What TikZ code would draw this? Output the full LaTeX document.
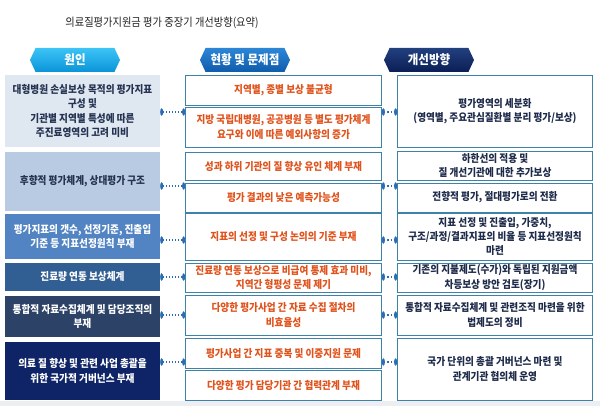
\documentclass[tikz,border=0pt]{standalone}
\usepackage{fontspec}
\setmainfont{Noto Sans CJK KR}[FakeStretch=0.9]
\usetikzlibrary{shapes.symbols,arrows.meta}

\definecolor{titletext}{HTML}{222222}
\definecolor{headAtop}{HTML}{3CC4F6}
\definecolor{headAbot}{HTML}{0A94D8}
\definecolor{headBtop}{HTML}{2C86D6}
\definecolor{headBbot}{HTML}{0F5CAC}
\definecolor{headCtop}{HTML}{22407F}
\definecolor{headCbot}{HTML}{0B1E55}
\definecolor{causeA}{HTML}{DFE7F1}
\definecolor{causeB}{HTML}{B8CBE3}
\definecolor{causeC}{HTML}{5284C3}
\definecolor{causeD}{HTML}{315F93}
\definecolor{causeE}{HTML}{2C4266}
\definecolor{causeF}{HTML}{0F2467}
\definecolor{darktext}{HTML}{253350}
\definecolor{boxline}{HTML}{3D82A8}
\definecolor{probtext}{HTML}{E0531C}
\definecolor{plantext}{HTML}{1E2B4A}
\definecolor{linkblue}{HTML}{2A6DB5}
\definecolor{shadowgray}{HTML}{ECEEF1}

\newcommand\cellfont{\fontsize{10.7}{14.2}\selectfont\bfseries}

\begin{document}
\begin{tikzpicture}[
  x=1pt, y=-1pt,
  every node/.style={inner sep=1pt},
  head/.style={signal, signal to=west and east, signal pointer angle=130,
    minimum width=90pt, minimum height=24pt, inner sep=0pt, text=white,
    font=\fontsize{12.8}{14}\selectfont\bfseries},
  % left column: filled cells, no frame
  cause/.style={minimum width=155pt, inner sep=0pt, align=center, font=\cellfont},
  % middle and right columns: framed white cells
  prob/.style={draw=boxline, line width=0.8pt, fill=white, minimum width=196pt,
    inner sep=0pt, align=center, text=probtext, font=\cellfont},
  plan/.style={draw=boxline, line width=0.8pt, fill=white, minimum width=195pt,
    inner sep=0pt, align=center, text=plantext, font=\cellfont},
  link/.style={draw=linkblue, line width=1.1pt, dotted,
    {Circle[length=3pt,width=7pt]}-{Circle[length=3pt,width=7pt]}}]

  \useasboundingbox (0,0) rectangle (600,409);
  \fill[shadowgray] (0,401) rectangle (600,406);

  % title and column heads
  \node[text=titletext, font=\fontsize{11.4}{13}\selectfont] (title) at (162,23)
    {의료질평가지원금 평가 중장기 개선방향(요약)};
  \node[head, top color=headAtop, bottom color=headAbot] (hcause) at (75,60) {원인};
  \node[head, top color=headBtop, bottom color=headBbot] (hprob)  at (245,60) {현황 및 문제점};
  \node[head, top color=headCtop, bottom color=headCbot] (hplan)  at (429,60) {개선방향};

  % causes
  \node[cause, fill=causeA, text=darktext, minimum height=72pt] (c1) at (82.5,111)
    {대형병원 손실보상 목적의 평가지표\\구성 및\\기관별 지역별 특성에 따른\\주진료영역의 고려 미비};
  \node[cause, fill=causeB, text=darktext, minimum height=59pt] (c2) at (82.5,181.5)
    {후향적 평가체계, 상대평가 구조};
  \node[cause, fill=causeC, text=white, minimum height=45pt] (c3) at (82.5,236.5)
    {평가지표의 갯수, 선정기준, 진출입\\기준 등 지표선정원칙 부재};
  \node[cause, fill=causeD, text=white, minimum height=28pt] (c4) at (82.5,277)
    {진료량 연동 보상체계};
  \node[cause, fill=causeE, text=white, minimum height=41pt] (c5) at (82.5,316.5)
    {통합적 자료수집체계 및 담당조직의\\부재};
  \node[cause, fill=causeF, text=white, minimum height=58pt] (c6) at (82.5,371)
    {의료 질 향상 및 관련 사업 총괄을\\위한 국가적 거버넌스 부재};

  % present state and problems
  \node[prob, minimum height=30pt] (p1) at (283.5,90)  {지역별, 종별 보상 불균형};
  \node[prob, minimum height=40pt] (p2) at (283.5,127)
    {지방 국립대병원, 공공병원 등 별도 평가체계\\요구와 이에 따른 예외사항의 증가};
  \node[prob, minimum height=28pt] (p3) at (283.5,166)   {성과 하위 기관의 질 향상 유인 체계 부재};
  \node[prob, minimum height=29pt] (p4) at (283.5,197.5) {평가 결과의 낮은 예측가능성};
  \node[prob, minimum height=47pt] (p5) at (283.5,236.5) {지표의 선정 및 구성 논의의 기준 부재};
  \node[prob, minimum height=29pt] (p6) at (283.5,277.5)
    {진료량 연동 보상으로 비급여 통제 효과 미비,\\지역간 형평성 문제 제기};
  \node[prob, minimum height=40pt] (p7) at (283.5,315)
    {다양한 평가사업 간 자료 수집 절차의\\비효율성};
  \node[prob, minimum height=30pt] (p8) at (283.5,353)   {평가사업 간 지표 중복 및 이중지원 문제};
  \node[prob, minimum height=30pt] (p9) at (283.5,385)   {다양한 평가 담당기관 간 협력관계 부재};

  % directions for improvement
  \node[plan, minimum height=72pt] (d1) at (495,111)
    {평가영역의 세분화\\(영역별, 주요관심질환별 분리 평가/보상)};
  \node[plan, minimum height=29pt] (d2) at (495,165.5)
    {하한선의 적용 및\\질 개선기관에 대한 추가보상};
  \node[plan, minimum height=29pt] (d3) at (495,197.5) {전향적 평가, 절대평가로의 전환};
  \node[plan, minimum height=47pt] (d4) at (495,236.5)
    {지표 선정 및 진출입, 가중치,\\구조/과정/결과지표의 비율 등 지표선정원칙\\마련};
  \node[plan, minimum height=29pt] (d5) at (495,277.5)
    {기존의 지불제도(수가)와 독립된 지원금액\\차등보상 방안 검토(장기)};
  \node[plan, minimum height=40pt] (d6) at (495,315)
    {통합적 자료수집체계 및 관련조직 마련을 위한\\법제도의 정비};
  \node[plan, minimum height=62pt] (d7) at (495,369)
    {국가 단위의 총괄 거버넌스 마련 및\\관계기관 협의체 운영};

  % rows of the dotted links
  \coordinate (r1) at (0,112);
  \coordinate (r2) at (0,186);
  \coordinate (r3) at (0,240);
  \coordinate (r4) at (0,277);
  \coordinate (r5) at (0,315);
  \coordinate (r6) at (0,362);

  % links
  \draw[link] (c1.east |- r1) -- (p2.west |- r1);
  \draw[link] (c2.east |- r2) -- (p4.west |- r2);
  \draw[link] (c3.east |- r3) -- (p5.west |- r3);
  \draw[link] (c4.east |- r4) -- (p6.west |- r4);
  \draw[link] (c5.east |- r5) -- (p7.west |- r5);
  \draw[link] (c6.east |- r6) -- (p8.west |- r6);
  \draw[link] (p2.east |- r1) -- (d1.west |- r1);
  \draw[link] (p4.east |- r2) -- (d3.west |- r2);
  \draw[link] (p5.east |- r3) -- (d4.west |- r3);
  \draw[link] (p6.east |- r4) -- (d5.west |- r4);
  \draw[link] (p7.east |- r5) -- (d6.west |- r5);
  \draw[link] (p8.east |- r6) -- (d7.west |- r6);
\end{tikzpicture}
\end{document}
